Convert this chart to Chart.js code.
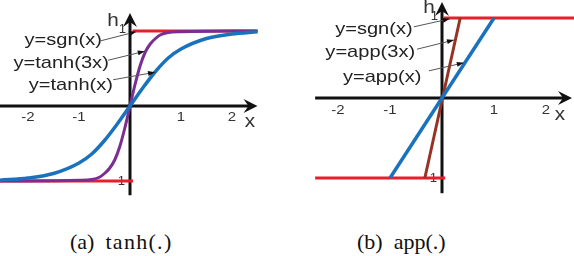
<!DOCTYPE html>
<html>
<head>
<meta charset="utf-8">
<script src="https://cdn.jsdelivr.net/npm/chart.js@4.4.0/dist/chart.umd.min.js"></script>
<style>
  body { margin: 0; background: #fff; width: 574px; height: 256px; position: relative; overflow: hidden; }
  canvas { position: absolute; }
  #chartA { left: 0; top: 0; }
  #chartB { left: 300px; top: 0; }
  .cap { position: absolute; top: 229px; font-family: "Liberation Serif", "Times New Roman", serif; font-size: 22px; color: #111; white-space: pre; }
</style>
</head>
<body>
<canvas id="chartA" width="260" height="200"></canvas>
<canvas id="chartB" width="274" height="200"></canvas>
<div class="cap" id="capA" style="left:70px">(a)  <span style="letter-spacing:1.3px">tanh(.)</span></div>
<div class="cap" id="capB" style="left:357px">(b)  app(.)</div>
<script>
// tick labels
const xTicks = [-2, -1, 1, 2];

const tanhX = [-2.55, -2, -1.5, -1, -0.75, -0.5, -0.25, 0, 0.25, 0.5, 0.75, 1, 1.5, 2, 2.5];
const tanhY = [-0.99, -0.96, -0.9, -0.76, -0.64, -0.46, -0.24, 0, 0.24, 0.46, 0.64, 0.76, 0.9, 0.96, 0.99];
const tanh3X = [-2.55, -1, -0.75, -0.6, -0.5, -0.4, -0.3, -0.2, -0.1, 0, 0.1, 0.2, 0.3, 0.4, 0.5, 0.6, 0.75, 1, 2.5];
const tanh3Y = [-1, -0.99, -0.98, -0.95, -0.9, -0.83, -0.72, -0.54, -0.29, 0, 0.29, 0.54, 0.72, 0.83, 0.9, 0.95, 0.98, 0.99, 1];
const sgnAX = [-2.55, 0.06, null, 0.05, 2.5];
const sgnAY = [-1, -1, null, 1, 1];

// panel (b)
const appX = [-1, 1];
const appY = [-1, 1];
const app3X = [-0.33, 0.35];
const app3Y = [-1, 1];
const sgnBX = [-2.44, 0.06, null, 0.03, 2.6];
const sgnBY = [-1, -1, null, 1, 1];

const labelsA = ["y=sgn(x)", "y=tanh(3x)", "y=tanh(x)"];
const labelsB = ["y=sgn(x)", "y=app(3x)", "y=app(x)"];

const pts = (xs, ys) => xs.map((x, i) => ({x: x, y: ys[i]}));

const SANS = '"Liberation Sans", Arial, Helvetica, sans-serif';

function stretchedText(ctx, text, x, y, size, align, sx) {
    ctx.save();
    ctx.font = size + "px " + SANS;
    const w = ctx.measureText(text).width * sx;
    let left = x;
    if (align === "center") left = x - w / 2;
    if (align === "right") left = x - w;
    ctx.translate(left, y);
    ctx.scale(sx, 1);
    ctx.textAlign = "left";
    ctx.textBaseline = "middle";
    ctx.fillText(text, 0, 0);
    ctx.restore();
}

function axisHead(ctx, tx, ty, dir) {
    // dir: 'right' or 'up'
    ctx.beginPath();
    if (dir === "right") {
        ctx.moveTo(tx, ty);
        ctx.lineTo(tx - 14, ty - 7);
        ctx.lineTo(tx - 9, ty);
        ctx.lineTo(tx - 14, ty + 7);
    } else {
        ctx.moveTo(tx, ty);
        ctx.lineTo(tx - 7, ty + 14);
        ctx.lineTo(tx, ty + 9);
        ctx.lineTo(tx + 7, ty + 14);
    }
    ctx.closePath();
    ctx.fill();
}

function makeAxesPlugin(cfg) {
    return {
        id: "axes",
        beforeDatasetsDraw(chart) {
            const ctx = chart.ctx;
            const sx = chart.scales.x, sy = chart.scales.y;
            const x0 = sx.getPixelForValue(0), y0 = sy.getPixelForValue(0);
            ctx.save();
            ctx.strokeStyle = "#111";
            ctx.fillStyle = "#111";
            ctx.lineWidth = 3;
            // x axis
            const xl = sx.getPixelForValue(cfg.xStart), xr = sx.getPixelForValue(cfg.xEnd);
            ctx.beginPath();
            ctx.moveTo(xl, y0);
            ctx.lineTo(xr - 8, y0);
            ctx.stroke();
            axisHead(ctx, xr, y0, "right");
            // y axis
            const yt = sy.getPixelForValue(cfg.yEnd), yb = sy.getPixelForValue(cfg.yStart);
            ctx.beginPath();
            ctx.moveTo(x0, yb);
            ctx.lineTo(x0, yt + 8);
            ctx.stroke();
            axisHead(ctx, x0, yt, "up");

            // tick labels
            ctx.fillStyle = "#333";
            xTicks.forEach(t => {
                const px = sx.getPixelForValue(t);
                stretchedText(ctx, String(t), px, y0 + cfg.tickDy, 13, "center", 1.15);
            });
            stretchedText(ctx, "1", x0 - 4, sy.getPixelForValue(1) - 1, 12, "right", 1.1);
            stretchedText(ctx, "-1", x0 - 5, sy.getPixelForValue(-1) + 1, 12, "right", 1.1);
            // axis names
            stretchedText(ctx, "x", sx.getPixelForValue(cfg.xNameAt), y0 + cfg.xNameDy, 18, "center", 1.15);
            stretchedText(ctx, "h", x0 + cfg.hDx, cfg.hY, 18, "center", 1.15);
            ctx.restore();
        },
        afterDatasetsDraw(chart) {
            const ctx = chart.ctx;
            const sx = chart.scales.x, sy = chart.scales.y;
            ctx.save();
            cfg.notes.forEach((n, i) => {
                ctx.fillStyle = "#222";
                stretchedText(ctx, cfg.labels[i], sx.getPixelForValue(n.tx), sy.getPixelForValue(n.ty), 17, "center", 1.18);
                const ax = sx.getPixelForValue(n.ax), ay = sy.getPixelForValue(n.ay);
                const bx = sx.getPixelForValue(n.bx), by = sy.getPixelForValue(n.by);
                ctx.strokeStyle = "#555";
                ctx.lineWidth = 1;
                ctx.beginPath();
                ctx.moveTo(ax, ay);
                ctx.lineTo(bx, by);
                ctx.stroke();
                const ang = Math.atan2(by - ay, bx - ax);
                ctx.fillStyle = "#111";
                ctx.beginPath();
                ctx.moveTo(bx, by);
                ctx.lineTo(bx - 7 * Math.cos(ang) + 2.5 * Math.sin(ang), by - 7 * Math.sin(ang) - 2.5 * Math.cos(ang));
                ctx.lineTo(bx - 7 * Math.cos(ang) - 2.5 * Math.sin(ang), by - 7 * Math.sin(ang) + 2.5 * Math.cos(ang));
                ctx.closePath();
                ctx.fill();
            });
            ctx.restore();
        }
    };
}

function baseOptions(xmin, xmax, ymin, ymax) {
    return {
        responsive: false,
        animation: false,
        events: [],
        layout: {padding: 0},
        plugins: {legend: {display: false}, tooltip: {enabled: false}},
        elements: {point: {radius: 0}},
        scales: {
            x: {type: "linear", min: xmin, max: xmax, display: false},
            y: {type: "linear", min: ymin, max: ymax, display: false}
        }
    };
}

const RED = "#e5202b", BLUE = "#1a72bd", PURPLE = "#7a2e92", BROWN = "#963424";

new Chart(document.getElementById("chartA"), {
    type: "line",
    data: {
        datasets: [
            {data: pts(tanhX, tanhY), borderColor: BLUE, borderWidth: 3.5, cubicInterpolationMode: "monotone"},
            {data: pts(tanh3X, tanh3Y), borderColor: PURPLE, borderWidth: 3, cubicInterpolationMode: "monotone"},
            {data: pts(sgnAX, sgnAY), borderColor: RED, borderWidth: 3, spanGaps: false}
        ]
    },
    options: baseOptions(-130 / 51, 130 / 51, -94 / 75, 106 / 75),
    plugins: [makeAxesPlugin({
        xStart: -2.55, xEnd: 2.5, yStart: -1.19, yEnd: 1.24,
        tickDy: 11, xNameAt: 2.35, xNameDy: 16, hDx: -17, hY: 21,
        labels: labelsA,
        notes: [
            {tx: -1.31, ty: 0.88, ax: -0.57, ay: 0.87, bx: 0.12, by: 0.99},
            {tx: -1.35, ty: 0.57, ax: -0.43, ay: 0.61, bx: 0.29, by: 0.73},
            {tx: -1.16, ty: 0.27, ax: -0.33, ay: 0.35, bx: 0.49, by: 0.45}
        ]
    })]
});

new Chart(document.getElementById("chartB"), {
    type: "line",
    data: {
        datasets: [
            {data: pts(appX, appY), borderColor: BLUE, borderWidth: 3.5},
            {data: pts(app3X, app3Y), borderColor: BROWN, borderWidth: 3},
            {data: pts(sgnBX, sgnBY), borderColor: RED, borderWidth: 3, spanGaps: false}
        ]
    },
    options: baseOptions(-142 / 52, 132 / 52, -102 / 80, 98 / 80),
    plugins: [makeAxesPlugin({
        xStart: -2.44, xEnd: 2.5, yStart: -1.19, yEnd: 1.2,
        tickDy: 12, xNameAt: 2.27, xNameDy: 17, hDx: -13, hY: 8,
        labels: labelsB,
        notes: [
            {tx: -1.31, ty: 0.86, ax: -0.54, ay: 0.89, bx: 0.15, by: 0.99},
            {tx: -1.38, ty: 0.575, ax: -0.48, ay: 0.61, bx: 0.23, by: 0.725},
            {tx: -1.15, ty: 0.26, ax: -0.25, ay: 0.34, bx: 0.42, by: 0.44}
        ]
    })]
});
</script>
</body>
</html>
